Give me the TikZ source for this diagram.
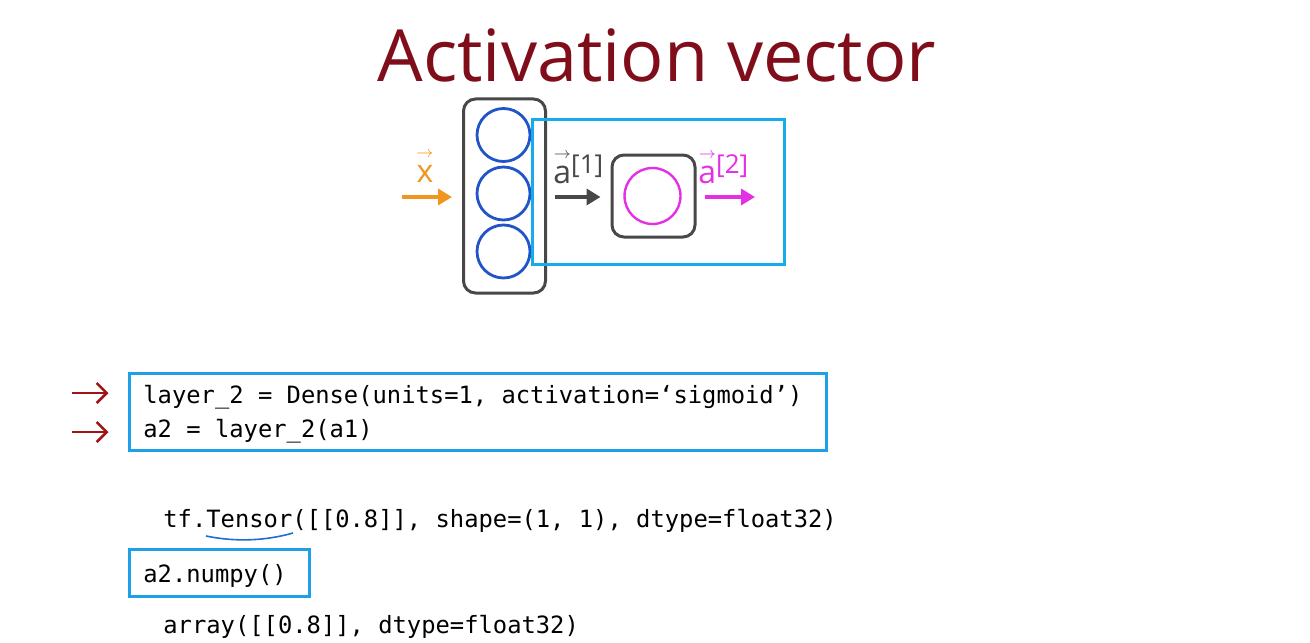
\documentclass[tikz,border=0pt]{standalone}
\usepackage{amsmath}
\usepackage{fontspec}
\setmainfont{Open Sans}[Ligatures=NoCommon]
\setmonofont{DejaVu Sans Mono}
\usepackage{xcolor}
\usetikzlibrary{arrows.meta,calc}
\definecolor{titlered}{RGB}{128,14,26}
\definecolor{unitblue}{RGB}{32,84,200}
\definecolor{framecyan}{RGB}{22,172,236}
\definecolor{boxgray}{RGB}{72,72,72}
\definecolor{xorange}{RGB}{240,150,30}
\definecolor{amag}{RGB}{228,48,228}
\definecolor{arrred}{RGB}{160,20,24}
\definecolor{codeblue}{RGB}{30,160,230}
\newcommand{\vecl}[1]{\ensuremath{\overset{\scriptscriptstyle\rightarrow}{\text{#1}}}}
\newcommand{\sq}[1]{\raisebox{5pt}{\fontsize{13}{13}\selectfont[#1]}}

\begin{document}
\begin{tikzpicture}[x=0.5pt,y=-0.5pt,
  layer/.style={draw=boxgray,line width=1.5pt,rounded corners=6pt,inner sep=0pt},
  unit/.style={circle,draw=unitblue,line width=1.4pt,minimum size=26.5pt,inner sep=0pt},
  flow/.style={-{Triangle[length=7pt,width=8pt]},line width=2.4pt},
  lab/.style={font=\fontsize{16}{18}\selectfont,inner sep=0pt,anchor=base west},
  code/.style={font=\ttfamily\fontsize{11.9}{14}\selectfont,inner sep=0pt,anchor=base west},
  codebox/.style={draw=codeblue,line width=1.5pt,inner sep=0pt},
  redarr/.style={arrred,line width=1.3pt,-{Straight Barb[length=5pt,width=10pt]}}]
\useasboundingbox (0,0) rectangle (1310,642);
% title
\node[font=\fontsize{36}{40}\selectfont,text=titlered,anchor=base,inner sep=0pt] (title) at (657,82) {Activation vector};
% layer 1 and its units
\node[layer,minimum width=41pt,minimum height=97pt] (l1) at (504.5,196) {};
\node[unit] (u1) at (503.5,135) {};
\node[unit] (u2) at (503.5,193.5) {};
\node[unit] (u3) at (503.5,251.5) {};
% highlighted part
\node[draw=framecyan,line width=1.5pt,minimum width=126pt,minimum height=72.5pt,inner sep=0pt] (frame) at (658,191.5) {};
% layer 2
\node[layer,minimum width=41.5pt,minimum height=41pt] (l2) at (653.5,196) {};
\node[circle,draw=amag,line width=1.2pt,minimum size=28pt,inner sep=0pt] (o1) at (652.5,196) {};
% data flow
\coordinate (xin) at (402,197);
\coordinate (aout) at (755,197);
\draw[flow,xorange] (xin) -- ($(l1.west |- xin)+(-5pt,0)$);
\draw[flow,boxgray] ($(l1.east |- xin)+(4pt,0)$) -- ($(l2.west |- xin)+(-5pt,0)$);
\draw[flow,amag] ($(l2.east |- xin)+(4pt,0)$) -- (aout);
\node[lab,text=xorange] (xlab) at (416,182) {\vecl{x}};
\node[lab,text=boxgray] (a1lab) at (553,183) {\vecl{a}\sq{1}};
\node[lab,text=amag] (a2lab) at (698,183) {\vecl{a}\sq{2}};
% code: layer 2
\node[codebox,minimum width=348.5pt,minimum height=38.5pt] (code1) at (477.5,411.5) {};
\node[code] (line1) at (143,403) {layer\_2 = Dense(units=1, activation=‘sigmoid’)};
\node[code] (line2) at (143,437) {a2 = layer\_2(a1)};
\coordinate (r1) at (72,393);
\coordinate (r2) at (72,432);
\draw[redarr] (r1) -- ($(code1.west |- r1)+(-9.5pt,0)$);
\draw[redarr] (r2) -- ($(code1.west |- r2)+(-9.5pt,0)$);
% code: result
\node[code] (tensor) at (163,527) {tf.Tensor([[0.8]], shape=(1, 1), dtype=float32)};
\draw[unitblue!70!framecyan,line width=0.8pt] (206,536) .. controls (235,542) and (265,541) .. (293,533);
\node[codebox,minimum width=90pt,minimum height=23.5pt] (code2) at (219,572.5) {};
\node[code] (numpy) at (143,582) {a2.numpy()};
\node[code] (arr) at (163,633) {array([[0.8]], dtype=float32)};
\end{tikzpicture}
\end{document}
